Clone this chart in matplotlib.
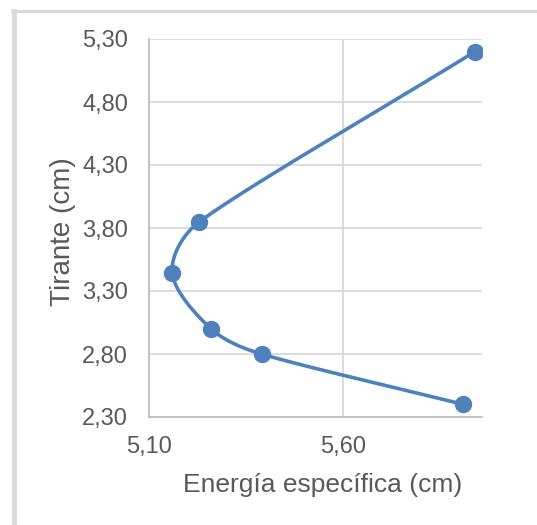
import numpy as np
import matplotlib
matplotlib.use("Agg")
from matplotlib import pyplot as plt
from matplotlib.lines import Line2D

# datos
energia = [5.94, 5.23, 5.16, 5.26, 5.39, 5.91]
tirante = [5.20, 3.85, 3.44, 3.00, 2.80, 2.40]
xticks = [5.10, 5.60]
yticks = [2.30, 2.80, 3.30, 3.80, 4.30, 4.80, 5.30]


def suavizar(x, y, n=40):
    # curva suavizada tipo Excel: bezier con tangentes catmull-rom,
    # limitando el largo de cada manija a 1/3 del tramo
    p = np.column_stack([x, y])
    esc = np.array([388 / 0.5, 126 / 0.5])  # aprox. en pixeles
    q = p * esc
    tang = np.zeros_like(q)
    tang[0] = (q[1] - q[0]) / 3
    tang[-1] = (q[-1] - q[-2]) / 3
    for i in range(1, len(q) - 1):
        tang[i] = (q[i + 1] - q[i - 1]) / 6

    def manija(v, d):
        L = np.hypot(*v)
        return v if L <= d / 3 else v * (d / 3) / L

    out = []
    for i in range(len(q) - 1):
        d = np.hypot(*(q[i + 1] - q[i]))
        c1 = q[i] + manija(tang[i], d)
        c2 = q[i + 1] - manija(tang[i + 1], d)
        t = np.linspace(0, 1, n)[:, None]
        seg = ((1 - t) ** 3 * q[i] + 3 * (1 - t) ** 2 * t * c1
               + 3 * (1 - t) * t ** 2 * c2 + t ** 3 * q[i + 1])
        out.append(seg)
    out = np.vstack(out) / esc
    return out[:, 0], out[:, 1]


plt.rcParams['font.family'] = ['Liberation Sans', 'DejaVu Sans']

fig = plt.figure(figsize=(5.37, 5.25), dpi=100)
ax = fig.add_axes([149 / 537, 1 - 417 / 525, 333 / 537, 378 / 525])

color = '#4F81BD'
sx, sy = suavizar(energia, tirante)
ax.plot(sx, sy, color=color, lw=2.6, solid_capstyle='round', zorder=3)
ax.plot(energia, tirante, 'o', color=color, ms=11.5, zorder=4)

ax.set_xlim(5.10, 5.958)
ax.set_ylim(2.30, 5.30)
ax.set_xticks(xticks)
ax.set_yticks(yticks)
ax.set_xticklabels([f"{v:.2f}".replace('.', ',') for v in xticks])
ax.set_yticklabels([f"{v:.2f}".replace('.', ',') for v in yticks])
ax.tick_params(length=0, labelsize=17, colors='#595959')
ax.tick_params(axis='x', pad=14)
ax.tick_params(axis='y', pad=15)
ax.grid(True, color='#D9D9D9', lw=1.3)
ax.set_axisbelow(True)
for s in ['top', 'right']:
    ax.spines[s].set_visible(False)
for s in ['left', 'bottom']:
    ax.spines[s].set_color('#BFBFBF')
    ax.spines[s].set_linewidth(1.3)

fig.text(323 / 537, 1 - 492 / 525, 'Energía específica (cm)', fontsize=19,
         color='#595959', ha='center', va='baseline')
fig.text(63 / 537, 1 - 232 / 525, 'Tirante (cm)', fontsize=20,
         color='#595959', ha='center', va='center', rotation=90)

# marco del area del grafico
fig.add_artist(Line2D([13.5 / 537, 13.5 / 537], [0, 1 - 11 / 525],
                      color='#D9D9D9', lw=3.5, transform=fig.transFigure))
fig.add_artist(Line2D([12 / 537, 1], [1 - 11 / 525, 1 - 11 / 525],
                      color='#D9D9D9', lw=2.2, transform=fig.transFigure))

fig.savefig('out.png', dpi=100)
